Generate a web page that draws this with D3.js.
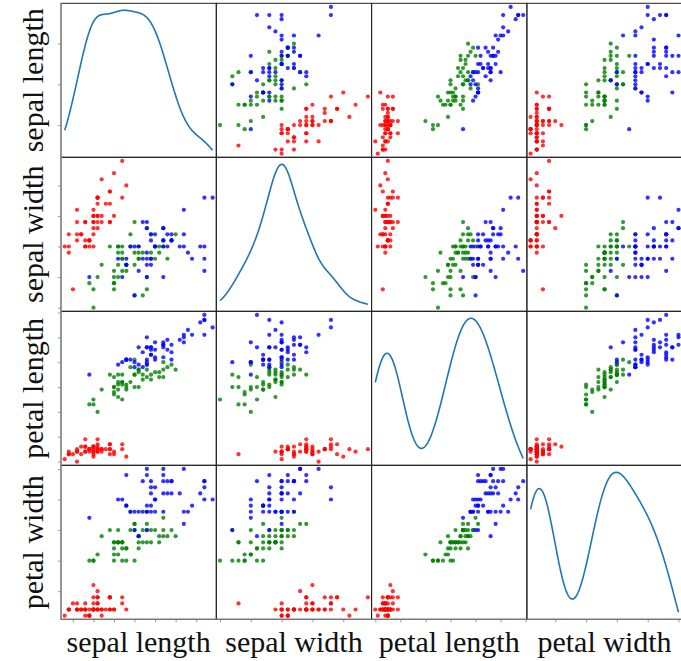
<!DOCTYPE html>
<html>
<head>
<meta charset="utf-8">
<script src="https://cdn.jsdelivr.net/npm/d3@7"></script>
<style>
  body { margin: 0; background: #fff; }
  svg { display: block; }
  .lbl { font-family: "Liberation Serif", "Times New Roman", serif; font-size: 30px; fill: #111; }
  .tick line { stroke: #999; }
  .domain { display: none; }
</style>
</head>
<body>
<svg id="chart" width="681" height="661"></svg>
<script>
const columns = ["sepal length", "sepal width", "petal length", "petal width"];

const sepalLength = [5.1,4.9,4.7,4.6,5.0,5.4,4.6,5.0,4.4,4.9,5.4,4.8,4.8,4.3,5.8,5.7,5.4,5.1,5.7,5.1,5.4,5.1,4.6,5.1,4.8,5.0,5.0,5.2,5.2,4.7,4.8,5.4,5.2,5.5,4.9,5.0,5.5,4.9,4.4,5.1,5.0,4.5,4.4,5.0,5.1,4.8,5.1,4.6,5.3,5.0,
  7.0,6.4,6.9,5.5,6.5,5.7,6.3,4.9,6.6,5.2,5.0,5.9,6.0,6.1,5.6,6.7,5.6,5.8,6.2,5.6,5.9,6.1,6.3,6.1,6.4,6.6,6.8,6.7,6.0,5.7,5.5,5.5,5.8,6.0,5.4,6.0,6.7,6.3,5.6,5.5,5.5,6.1,5.8,5.0,5.6,5.7,5.7,6.2,5.1,5.7,
  6.3,5.8,7.1,6.3,6.5,7.6,4.9,7.3,6.7,7.2,6.5,6.4,6.8,5.7,5.8,6.4,6.5,7.7,7.7,6.0,6.9,5.6,7.7,6.3,6.7,7.2,6.2,6.1,6.4,7.2,7.4,7.9,6.4,6.3,6.1,7.7,6.3,6.4,6.0,6.9,6.7,6.9,5.8,6.8,6.7,6.7,6.3,6.5,6.2,5.9];
const sepalWidth = [3.5,3.0,3.2,3.1,3.6,3.9,3.4,3.4,2.9,3.1,3.7,3.4,3.0,3.0,4.0,4.4,3.9,3.5,3.8,3.8,3.4,3.7,3.6,3.3,3.4,3.0,3.4,3.5,3.4,3.2,3.1,3.4,4.1,4.2,3.1,3.2,3.5,3.1,3.0,3.4,3.5,2.3,3.2,3.5,3.8,3.0,3.8,3.2,3.7,3.3,
  3.2,3.2,3.1,2.3,2.8,2.8,3.3,2.4,2.9,2.7,2.0,3.0,2.2,2.9,2.9,3.1,3.0,2.7,2.2,2.5,3.2,2.8,2.5,2.8,2.9,3.0,2.8,3.0,2.9,2.6,2.4,2.4,2.7,2.7,3.0,3.4,3.1,2.3,3.0,2.5,2.6,3.0,2.6,2.3,2.7,3.0,2.9,2.9,2.5,2.8,
  3.3,2.7,3.0,2.9,3.0,3.0,2.5,2.9,2.5,3.6,3.2,2.7,3.0,2.5,2.8,3.2,3.0,3.8,2.6,2.2,3.2,2.8,2.8,2.7,3.3,3.2,2.8,3.0,2.8,3.0,2.8,3.8,2.8,2.8,2.6,3.0,3.4,3.1,3.0,3.1,3.1,3.1,2.7,3.2,3.3,3.0,2.5,3.0,3.4,3.0];
const petalLength = [1.4,1.4,1.3,1.5,1.4,1.7,1.4,1.5,1.4,1.5,1.5,1.6,1.4,1.1,1.2,1.5,1.3,1.4,1.7,1.5,1.7,1.5,1.0,1.7,1.9,1.6,1.6,1.5,1.4,1.6,1.6,1.5,1.5,1.4,1.5,1.2,1.3,1.5,1.3,1.5,1.3,1.3,1.3,1.6,1.9,1.4,1.6,1.4,1.5,1.4,
  4.7,4.5,4.9,4.0,4.6,4.5,4.7,3.3,4.6,3.9,3.5,4.2,4.0,4.7,3.6,4.4,4.5,4.1,4.5,3.9,4.8,4.0,4.9,4.7,4.3,4.4,4.8,5.0,4.5,3.5,3.8,3.7,3.9,5.1,4.5,4.5,4.7,4.4,4.1,4.0,4.4,4.6,4.0,3.3,4.2,4.2,4.2,4.3,3.0,4.1,
  6.0,5.1,5.9,5.6,5.8,6.6,4.5,6.3,5.8,6.1,5.1,5.3,5.5,5.0,5.1,5.3,5.5,6.7,6.9,5.0,5.7,4.9,6.7,4.9,5.7,6.0,4.8,4.9,5.6,5.8,6.1,6.4,5.6,5.1,5.6,6.1,5.6,5.5,4.8,5.4,5.6,5.1,5.1,5.9,5.7,5.2,5.0,5.2,5.4,5.1];
const petalWidth = [0.2,0.2,0.2,0.2,0.2,0.4,0.3,0.2,0.2,0.1,0.2,0.2,0.1,0.1,0.2,0.4,0.4,0.3,0.3,0.3,0.2,0.4,0.2,0.5,0.2,0.2,0.4,0.2,0.2,0.2,0.2,0.4,0.1,0.2,0.1,0.2,0.2,0.1,0.2,0.2,0.3,0.3,0.2,0.6,0.4,0.3,0.2,0.2,0.2,0.2,
  1.4,1.5,1.5,1.3,1.5,1.3,1.6,1.0,1.3,1.4,1.0,1.5,1.0,1.4,1.3,1.4,1.5,1.0,1.5,1.1,1.8,1.3,1.5,1.2,1.3,1.4,1.4,1.7,1.5,1.0,1.1,1.0,1.2,1.6,1.5,1.6,1.5,1.3,1.3,1.3,1.2,1.4,1.2,1.0,1.3,1.2,1.3,1.3,1.1,1.3,
  2.5,1.9,2.1,1.8,2.2,2.1,1.7,1.8,1.8,2.5,2.0,1.9,2.1,2.0,2.4,2.3,1.8,2.2,2.3,1.5,2.3,2.0,2.0,1.8,2.1,1.8,1.8,1.8,2.1,1.6,1.9,2.0,2.2,1.5,1.4,2.3,2.4,1.8,1.8,2.1,2.4,2.3,1.9,2.3,2.5,2.3,1.9,2.0,2.3,1.8];
const speciesNames = ["setosa", "versicolor", "virginica"];
const speciesColors = ["#ff0000", "#008000", "#0000ff"];
const speciesCounts = [50, 50, 50];

// tick values as seen on the outer axes
const xTicks = [[4.5,5,5.5,6,6.5,7,7.5], [2,2.5,3,3.5,4], [1,2,3,4,5,6,7], [0.5,1,1.5,2,2.5]];
const yTicks = [[5,6,7], [2,2.5,3,3.5,4], [1,2,3,4,5,6,7], [0.5,1,1.5,2,2.5]];

const values = [sepalLength, sepalWidth, petalLength, petalWidth];
const species = speciesCounts.flatMap((c, i) => Array(c).fill(i));
const n = sepalLength.length;

const svg = d3.select("#chart");
const gridLeft = 61, gridTop = 3.3, cw = 155.3, ch = 154;
const k = columns.length;

const domains = values.map(v => {
  const [lo, hi] = d3.extent(v);
  const pad = (hi - lo) * 0.025;
  return [lo - pad, hi + pad];
});

function kde(v) {
  const bw = Math.pow(v.length, -0.2) * d3.deviation(v);
  const [lo, hi] = d3.extent(v);
  const xs = d3.ticks(lo, hi, 300).concat([hi]);
  return xs.map(x => [x, d3.mean(v, d => Math.exp(-0.5 * ((x - d) / bw) ** 2)) / (bw * Math.sqrt(2 * Math.PI))]);
}

for (let r = 0; r < k; r++) {
  for (let c = 0; c < k; c++) {
    const x0 = gridLeft + c * cw, y0 = gridTop + r * ch;
    const g = svg.append("g").attr("transform", `translate(${x0},${y0})`);
    const x = d3.scaleLinear().domain(domains[c]).range([0, cw]);
    const y = d3.scaleLinear().domain(domains[r]).range([ch, 0]);

    if (r === c) {
      const dens = kde(values[c]);
      const [dl, dh] = d3.extent(dens, d => d[1]);
      const m = (dh - dl) * 0.05;
      const yd = d3.scaleLinear().domain([dl - m, dh + m]).range([ch, 0]);
      g.append("path")
        .datum(dens)
        .attr("fill", "none")
        .attr("stroke", "#1f77b4")
        .attr("stroke-width", 1.6)
        .attr("d", d3.line().x(d => x(d[0])).y(d => yd(d[1])));
    } else {
      g.selectAll("circle")
        .data(d3.range(n))
        .enter()
        .append("circle")
        .attr("cx", i => x(values[c][i]))
        .attr("cy", i => y(values[r][i]))
        .attr("r", 2.1)
        .attr("fill", i => speciesColors[species[i]])
        .attr("fill-opacity", 0.8);
    }

    if (c === 0) {
      g.append("g")
        .call(d3.axisLeft(y).tickValues(yTicks[r]).tickSize(3).tickFormat(""));
    }
    if (r === k - 1) {
      g.append("g")
        .attr("transform", `translate(0,${ch})`)
        .call(d3.axisBottom(x).tickValues(xTicks[c]).tickSize(3).tickFormat(""));
    }

    g.append("rect")
      .attr("width", cw).attr("height", ch)
      .attr("fill", "none")
      .attr("stroke", "#222")
      .attr("stroke-width", 1);
  }
}

// lighter outer spines on the left and bottom
svg.append("line").attr("x1", gridLeft).attr("x2", gridLeft).attr("y1", gridTop).attr("y2", gridTop + k * ch)
  .attr("stroke", "#999").attr("stroke-width", 1.4);
svg.append("line").attr("x1", gridLeft).attr("x2", gridLeft + k * cw).attr("y1", gridTop + k * ch).attr("y2", gridTop + k * ch)
  .attr("stroke", "#777").attr("stroke-width", 1.2);

// labels
columns.forEach((name, i) => {
  svg.append("text")
    .attr("class", "lbl")
    .attr("x", gridLeft + i * cw + cw / 2)
    .attr("y", 652)
    .attr("text-anchor", "middle")
    .text(name);
  svg.append("text")
    .attr("class", "lbl")
    .attr("transform", `translate(43,${gridTop + i * ch + ch / 2}) rotate(-90)`)
    .attr("text-anchor", "middle")
    .text(name);
});
</script>
</body>
</html>
